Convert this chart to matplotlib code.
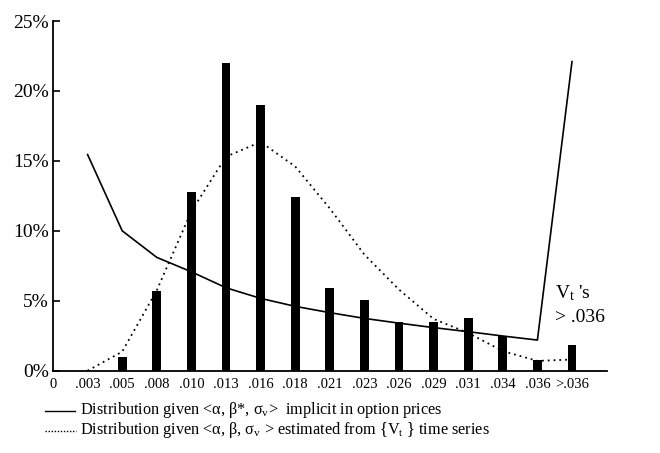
import matplotlib.pyplot as plt
import numpy as np

plt.rcParams['font.family'] = ['Liberation Serif', 'DejaVu Serif']
plt.rcParams['mathtext.fontset'] = 'custom'
plt.rcParams['mathtext.rm'] = 'Liberation Serif'
plt.rcParams['mathtext.it'] = 'Liberation Serif:italic'

# x categories (volatility buckets)
tick_labels = ['0', '.003', '.005', '.008', '.010', '.013', '.016', '.018',
               '.021', '.023', '.026', '.029', '.031', '.034', '.036', '>.036']
# observed frequencies (bars), starting at .005
bar_vals = [1.0, 5.7, 12.8, 22.0, 19.0, 12.4, 5.9, 5.05, 3.5, 3.5, 3.75,
            2.45, 0.75, 1.85]
# implied distribution (solid), starting at .003
implied = [15.45, 10.0, 8.1, 7.07, 5.93, 5.17, 4.6, 4.15, 3.74, 3.4, 3.08,
           2.79, 2.48, 2.19, 22.1]
# time-series distribution (dotted), starting at .003
estimated = [0.0, 1.36, 5.75, 11.4, 15.3, 16.35, 14.6, 11.6, 8.3, 5.8, 3.7,
             2.7, 1.4, 0.7, 0.8]

pos = np.arange(len(tick_labels))

fig = plt.figure(figsize=(6.6, 4.53), dpi=100)
ax = fig.add_axes([53/660, 1-370.7/453, 553.6/660, 349.7/453])

ax.bar(pos[2:], bar_vals, width=0.26, color='black')
ax.plot(pos[1:], implied, color='black', lw=1.2)
ax.plot(pos[1:], estimated, color='black', lw=1.3, linestyle=(0, (1, 2.2)))

ax.set_xlim(0, 16)
ax.set_ylim(0, 25)
ax.set_xticks(pos)
ax.set_xticklabels(tick_labels, fontsize=10.5)
ax.set_yticks([0, 5, 10, 15, 20, 25])
ax.set_yticklabels(['0%', '5%', '10%', '15%', '20%', '25%'], fontsize=14)
ax.tick_params(axis='x', length=0, pad=5)
ax.tick_params(axis='y', direction='in', length=5, width=1.2, pad=3)
for s in ['top', 'right']:
    ax.spines[s].set_visible(False)
for s in ['left', 'bottom']:
    ax.spines[s].set_linewidth(1.3)

ax.text(14.5, 5.2, "V$_\\mathrm{t}$ 's", fontsize=14)
ax.text(14.5, 3.5, '> .036', fontsize=14)

# legend drawn by hand under the chart
fig.add_artist(plt.Line2D([45/660, 75/660], [1-411/453, 1-411/453],
                          color='black', lw=1.0))
fig.add_artist(plt.Line2D([45/660, 76/660], [1-431/453, 1-431/453],
                          color='black', lw=1.0, linestyle=(0, (1, 1.2))))
fig.text(80/660, 1-410/453,
         'Distribution given <α, β*, σ$_\\mathrm{v}$>  implicit in option prices',
         fontsize=11.7, va='center')
fig.text(80/660, 1-430/453,
         'Distribution given <α, β, σ$_\\mathrm{v}$ > estimated from {V$_\\mathrm{t}$ } time series',
         fontsize=11.7, va='center')

fig.savefig('out.png', dpi=100)
